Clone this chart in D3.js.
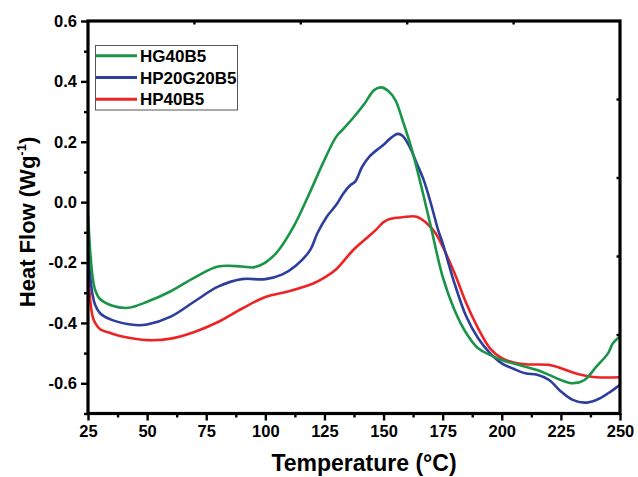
<!DOCTYPE html>
<html>
<head>
<meta charset="utf-8">
<script src="https://cdn.jsdelivr.net/npm/d3@7"></script>
<style>
  body { margin: 0; background: #fff; }
  svg text { font-family: "Liberation Sans", Arial, sans-serif; font-weight: bold; }
</style>
</head>
<body>
<div id="chart"></div>
<script>
// temperature (°C) and heat flow (W/g)
var tempG = [25, 26, 27, 28, 30, 35, 42, 50, 60, 70, 80, 90, 95, 100, 105, 112, 118, 125, 130, 133, 137, 142, 146, 149, 152, 155, 158, 162, 166, 170, 175, 180, 185, 190, 195, 200, 210, 215, 220, 225, 230, 235, 240, 245, 247, 250];
var flowG = [-0.04, -0.17, -0.25, -0.29, -0.32, -0.342, -0.35, -0.33, -0.295, -0.25, -0.213, -0.213, -0.216, -0.2, -0.165, -0.08, 0.018, 0.14, 0.217, 0.243, 0.278, 0.327, 0.371, 0.38, 0.368, 0.338, 0.272, 0.173, 0.051, -0.081, -0.247, -0.357, -0.434, -0.484, -0.506, -0.523, -0.545, -0.556, -0.572, -0.589, -0.60, -0.589, -0.545, -0.50, -0.467, -0.445];

var tempB = [25, 26, 27, 28, 30, 35, 45, 50, 60, 70, 80, 90, 100, 107, 113, 119, 122, 126, 130, 133, 136, 138, 141, 144, 148, 150, 153, 156, 158, 161, 164, 167, 170, 173, 175, 180, 185, 190, 195, 200, 205, 210, 215, 220, 225, 230, 235, 240, 245, 250];
var flowB = [-0.15, -0.25, -0.31, -0.34, -0.367, -0.39, -0.407, -0.405, -0.379, -0.329, -0.28, -0.255, -0.255, -0.24, -0.21, -0.158, -0.103, -0.048, -0.009, 0.029, 0.057, 0.068, 0.118, 0.151, 0.178, 0.19, 0.212, 0.226, 0.22, 0.184, 0.129, 0.073, -0.004, -0.09, -0.136, -0.269, -0.379, -0.451, -0.50, -0.534, -0.552, -0.567, -0.572, -0.589, -0.627, -0.655, -0.664, -0.655, -0.633, -0.605];

var tempR = [25, 26, 27, 28, 30, 35, 40, 50, 60, 70, 80, 90, 100, 110, 120, 125, 130, 137, 143, 147, 150, 153, 158, 164, 168, 172, 175, 180, 185, 190, 195, 200, 205, 210, 220, 225, 230, 235, 240, 250];
var flowR = [-0.22, -0.33, -0.38, -0.40, -0.42, -0.435, -0.446, -0.457, -0.452, -0.43, -0.397, -0.353, -0.314, -0.295, -0.27, -0.25, -0.222, -0.16, -0.118, -0.09, -0.066, -0.055, -0.05, -0.048, -0.068, -0.103, -0.147, -0.235, -0.335, -0.418, -0.484, -0.517, -0.531, -0.537, -0.539, -0.55, -0.564, -0.574, -0.58, -0.58];

var seriesNames = ["HG40B5", "HP20G20B5", "HP40B5"];
var seriesColors = ["#1a9448", "#2d3e9c", "#ee2424"];

var xTicks = [25, 50, 75, 100, 125, 150, 175, 200, 225, 250];
var yTicks = [-0.6, -0.4, -0.2, 0.0, 0.2, 0.4, 0.6];
var topTicks = [70, 115, 160, 205];
var rightTicks = [0.34, 0.08, -0.18, -0.44];

var width = 638, height = 477;
var plotLeft = 88, plotRight = 620, plotTop = 21, plotBottom = 413.5;

var xScale = d3.scaleLinear().domain([25, 250]).range([plotLeft, plotRight]);
var yScale = d3.scaleLinear().domain([-0.7, 0.6]).range([plotBottom, plotTop]);

var svg = d3.select("#chart").append("svg")
  .attr("width", width)
  .attr("height", height);

var series = [
  { name: seriesNames[0], color: seriesColors[0], t: tempG, v: flowG },
  { name: seriesNames[1], color: seriesColors[1], t: tempB, v: flowB },
  { name: seriesNames[2], color: seriesColors[2], t: tempR, v: flowR }
];

var line = d3.line()
  .x(function(d) { return xScale(d[0]); })
  .y(function(d) { return yScale(d[1]); })
  .curve(d3.curveCatmullRom.alpha(0.5));

svg.append("defs").append("clipPath").attr("id", "clip")
  .append("rect")
  .attr("x", plotLeft).attr("y", plotTop)
  .attr("width", plotRight - plotLeft).attr("height", plotBottom - plotTop);

var lines = svg.append("g").attr("clip-path", "url(#clip)");
// red first so green ends up on top
series.slice().reverse().forEach(function(s) {
  lines.append("path")
    .datum(d3.zip(s.t, s.v))
    .attr("fill", "none")
    .attr("stroke", s.color)
    .attr("stroke-width", 2.6)
    .attr("stroke-linejoin", "round")
    .attr("d", line);
});

// bottom axis
var xAxis = d3.axisBottom(xScale).tickValues(xTicks).tickSize(7).tickPadding(5)
  .tickFormat(d3.format("d"));
var gx = svg.append("g").attr("transform", "translate(0," + plotBottom + ")").call(xAxis);
gx.select(".domain").remove();
gx.selectAll("line").attr("stroke", "#000").attr("stroke-width", 2.4);
gx.selectAll("text").attr("font-size", 16.5).attr("fill", "#000");

var xMinor = d3.axisBottom(xScale)
  .tickValues(xTicks.slice(0, -1).map(function(d) { return d + 12.5; }))
  .tickSize(4).tickFormat("");
var gxm = svg.append("g").attr("transform", "translate(0," + plotBottom + ")").call(xMinor);
gxm.select(".domain").remove();
gxm.selectAll("line").attr("stroke", "#000").attr("stroke-width", 2.4);

// left axis
var yAxis = d3.axisLeft(yScale).tickValues(yTicks).tickSize(7).tickPadding(4)
  .tickFormat(function(d) { return d3.format(".1f")(d).replace("−", "-"); });
var gy = svg.append("g").attr("transform", "translate(" + plotLeft + ",0)").call(yAxis);
gy.select(".domain").remove();
gy.selectAll("line").attr("stroke", "#000").attr("stroke-width", 2.4);
gy.selectAll("text").attr("font-size", 16.5).attr("fill", "#000");

var yMinor = d3.axisLeft(yScale)
  .tickValues([-0.7, -0.5, -0.3, -0.1, 0.1, 0.3, 0.5])
  .tickSize(4).tickFormat("");
var gym = svg.append("g").attr("transform", "translate(" + plotLeft + ",0)").call(yMinor);
gym.select(".domain").remove();
gym.selectAll("line").attr("stroke", "#000").attr("stroke-width", 2.4);

// small inner ticks on top and right
svg.append("g").selectAll("line").data(topTicks).enter().append("line")
  .attr("x1", function(d) { return xScale(d); }).attr("x2", function(d) { return xScale(d); })
  .attr("y1", plotTop).attr("y2", plotTop + 3.5)
  .attr("stroke", "#000").attr("stroke-width", 2.4);
svg.append("g").selectAll("line").data(rightTicks).enter().append("line")
  .attr("x1", plotRight).attr("x2", plotRight - 3.5)
  .attr("y1", function(d) { return yScale(d); }).attr("y2", function(d) { return yScale(d); })
  .attr("stroke", "#000").attr("stroke-width", 2.4);

// frame
svg.append("rect")
  .attr("x", plotLeft).attr("y", plotTop)
  .attr("width", plotRight - plotLeft).attr("height", plotBottom - plotTop)
  .attr("fill", "none").attr("stroke", "#000").attr("stroke-width", 3.2);

// axis titles
svg.append("text")
  .attr("x", 364).attr("y", 471)
  .attr("text-anchor", "middle").attr("font-size", 23)
  .text("Temperature (°C)");

var yTitle = svg.append("text")
  .attr("transform", "translate(35,222) rotate(-90)")
  .attr("text-anchor", "middle").attr("font-size", 22);
yTitle.append("tspan").text("Heat Flow (Wg");
yTitle.append("tspan").attr("font-size", 13).attr("dy", -9).text("-1");
yTitle.append("tspan").attr("dy", 9).text(")");

// legend
var legend = svg.append("g");
legend.append("rect")
  .attr("x", 95.5).attr("y", 45.5).attr("width", 142).attr("height", 64.5)
  .attr("fill", "#fff").attr("stroke", "#555").attr("stroke-width", 1);
var rowY = d3.scalePoint().domain(seriesNames).range([55.7, 99.3]);
series.forEach(function(s) {
  legend.append("line")
    .attr("x1", 96).attr("x2", 137)
    .attr("y1", rowY(s.name)).attr("y2", rowY(s.name))
    .attr("stroke", s.color).attr("stroke-width", 3);
  legend.append("text")
    .attr("x", 140).attr("y", rowY(s.name) + 6)
    .attr("font-size", 17)
    .text(s.name);
});
</script>
</body>
</html>
